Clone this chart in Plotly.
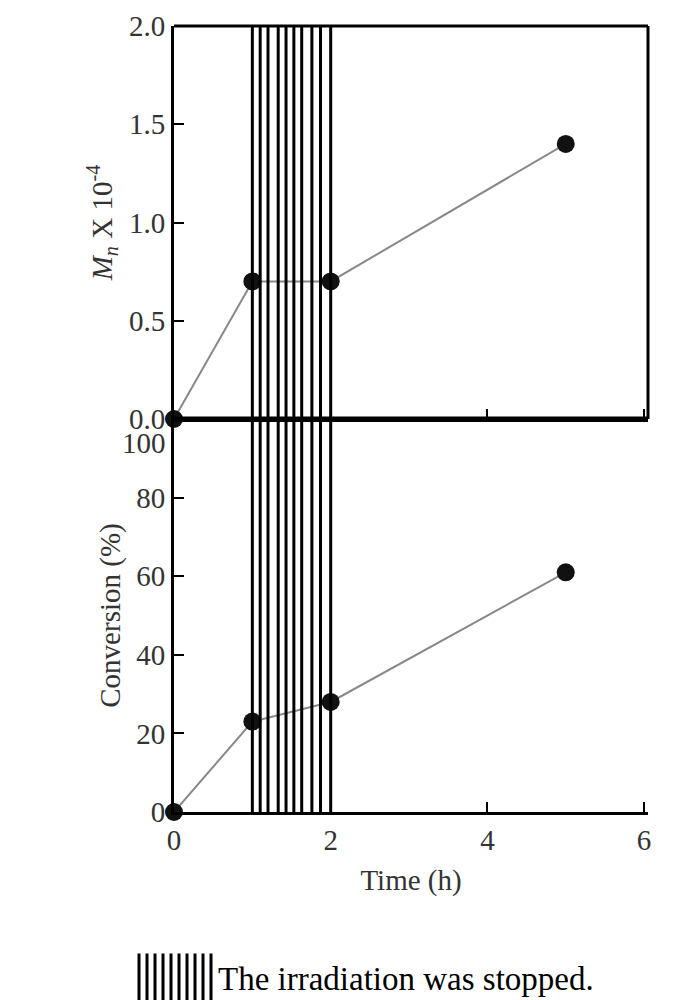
import plotly.graph_objects as go
from plotly.subplots import make_subplots

time = [0, 1, 2, 5]
mn = [0, 0.7, 0.7, 1.4]
conv = [0, 23, 28, 61]
stop_lines = [1.0, 1.1, 1.2, 1.33, 1.43, 1.53, 1.63, 1.76, 1.87, 2.0]
conv_ticks = [0, 20, 40, 60, 80]
FONT = "Liberation Serif"

fig = make_subplots(rows=2, cols=1, shared_xaxes=True, vertical_spacing=0)
mk = dict(size=18, color="#111")
ln = dict(color="#888", width=2)
fig.add_trace(go.Scatter(x=time, y=mn, mode="lines+markers", marker=mk, line=ln, cliponaxis=False), 1, 1)
fig.add_trace(go.Scatter(x=time, y=conv, mode="lines+markers", marker=mk, line=ln, cliponaxis=False), 2, 1)

for xv in stop_lines:
    fig.add_shape(type="line", xref="x", yref="paper", x0=xv, x1=xv, y0=0, y1=1,
                  line=dict(color="black", width=3))

fig.add_shape(type="line", xref="paper", yref="paper", x0=0, x1=1, y0=1, y1=1, line=dict(color="black", width=3))
fig.add_shape(type="line", xref="paper", yref="paper", x0=1, x1=1, y0=0.5, y1=1, line=dict(color="black", width=3))
fig.add_shape(type="line", xref="paper", yref="paper", x0=0, x1=1, y0=0.5, y1=0.5, line=dict(color="black", width=5))

W = 474.0
for i in range(10):
    px = 131 + i * 8
    xp = (px - 166) / W
    fig.add_shape(type="line", xref="paper", yref="paper", x0=xp, x1=xp, y0=-0.18, y1=-0.245,
                  line=dict(color="black", width=3))
fig.add_annotation(xref="paper", yref="paper", x=(208 - 166) / W, y=-0.2125, xanchor="left", yanchor="middle",
                   text="The irradiation was stopped.", showarrow=False, font=dict(family=FONT, size=33, color="black"))
fig.add_annotation(xref="paper", yref="y2", x=0, y=100, xanchor="right", yanchor="top", xshift=-6, yshift=-6,
                   text="100", showarrow=False, font=dict(family=FONT, size=29, color="#333"))

ax = dict(showgrid=False, zeroline=False, showline=True, linecolor="black", linewidth=3,
          ticks="inside", ticklen=10, tickwidth=2, tickcolor="black", automargin=False,
          tickfont=dict(family=FONT, size=29, color="#333"))
fig.update_xaxes(**ax, range=[0, 6.05], dtick=2)
fig.update_xaxes(showticklabels=False, row=1, col=1)
fig.update_xaxes(title=dict(text="Time (h)", font=dict(family=FONT, size=29, color="#333")), row=2, col=1)
fig.update_yaxes(**ax)
fig.update_yaxes(range=[0, 2.0], dtick=0.5, tickformat=".1f", row=1, col=1,
                 title=dict(text="<i>M<sub>n</sub></i> X 10<sup>-4</sup>", font=dict(family=FONT, size=29, color="#333"), standoff=8))
fig.update_yaxes(range=[0, 100], tickvals=conv_ticks, row=2, col=1,
                 title=dict(text="Conversion (%)", font=dict(family=FONT, size=29, color="#333"), standoff=8))

fig.update_layout(width=696, height=1000, showlegend=False, plot_bgcolor="white", paper_bgcolor="white",
                  margin=dict(l=166, r=56, t=18, b=196, autoexpand=False))
fig.write_html("out.html")
